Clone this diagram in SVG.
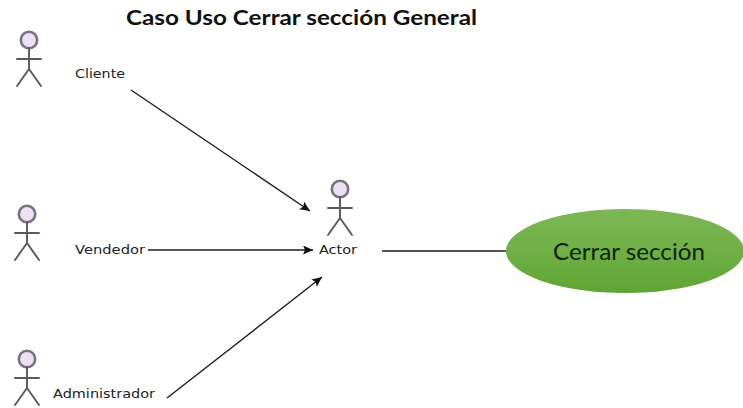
<svg xmlns="http://www.w3.org/2000/svg" width="743" height="408" viewBox="0 0 743 408">
<style>
.lbl{font-family:"DejaVu Sans","Liberation Sans",sans-serif;font-size:13px;fill:#222}
.head{fill:#ece0f4;stroke:#77727c;stroke-width:2.6}
.limb{fill:none;stroke:#5a575e;stroke-width:1.9;stroke-linecap:round}
.conn{fill:none;stroke:#1c1c1c;stroke-width:1.4}
</style>
<defs>
<marker id="arrow" markerUnits="userSpaceOnUse" markerWidth="12" markerHeight="10" refX="10" refY="4.5" orient="auto"><path d="M0 0L10 4.5L0 9L2 4.5Z" fill="#111"/></marker>
<linearGradient id="green" x1="0" y1="0" x2="0" y2="1"><stop offset="0" stop-color="#7db756"/><stop offset="0.5" stop-color="#6fb044"/><stop offset="1" stop-color="#5fa535"/></linearGradient>
<g id="stick"><circle class="head" cx="0" cy="0" r="8.2"/><path class="limb" d="M-12 19H12M0 8V29M0 29L-12 46M0 29L12 46"/></g>
</defs>
<rect width="743" height="408" fill="#fff"/>
<text id="title" x="126" y="25" font-family="Lato,'Open Sans',sans-serif" font-size="21" font-weight="700" fill="#111" textLength="351" lengthAdjust="spacingAndGlyphs">Caso Uso Cerrar sección General</text>
<g id="connectors">
<path class="conn" d="M131 90L310 211" marker-end="url(#arrow)"/>
<path class="conn" d="M148 250H313" marker-end="url(#arrow)"/>
<path class="conn" d="M167 398L322 277" marker-end="url(#arrow)"/>
<path class="conn" d="M382 251H506"/>
</g>
<g id="cliente"><use href="#stick" x="29" y="40"/><text class="lbl" x="75" y="78" textLength="50" lengthAdjust="spacingAndGlyphs">Cliente</text></g>
<g id="vendedor"><use href="#stick" x="27" y="214"/><text class="lbl" x="75" y="254" textLength="70" lengthAdjust="spacingAndGlyphs">Vendedor</text></g>
<g id="administrador"><use href="#stick" x="27" y="359"/><text class="lbl" x="53" y="398" textLength="102" lengthAdjust="spacingAndGlyphs">Administrador</text></g>
<g id="actor"><use href="#stick" x="340" y="189"/><text class="lbl" x="319" y="254" textLength="38" lengthAdjust="spacingAndGlyphs">Actor</text></g>
<g id="cerrar-seccion"><ellipse cx="625" cy="251" rx="119" ry="42" fill="url(#green)"/><text x="629" y="260" text-anchor="middle" font-family="Lato,'Open Sans',sans-serif" font-size="24" fill="#12200a" textLength="152" lengthAdjust="spacingAndGlyphs">Cerrar sección</text></g>
</svg>
